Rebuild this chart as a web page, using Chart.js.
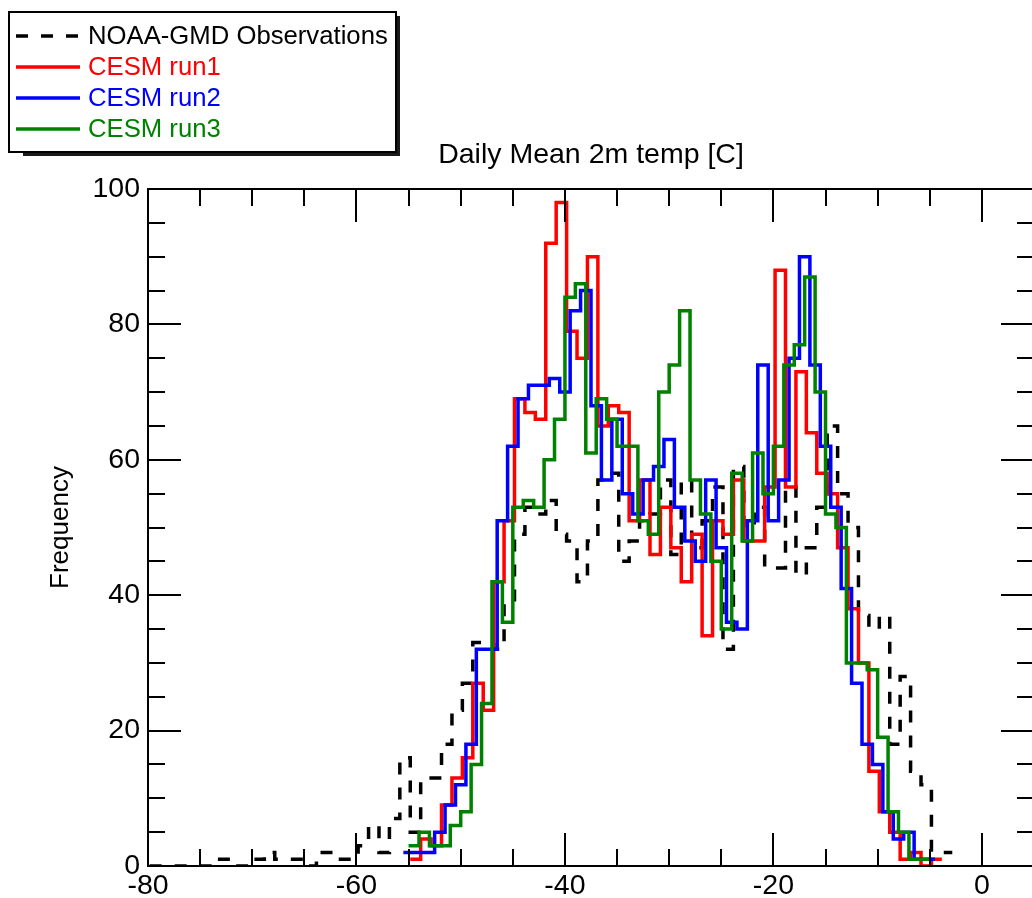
<!DOCTYPE html>
<html>
<head>
<meta charset="utf-8">
<title>Daily Mean 2m temp</title>
<script src="https://cdn.jsdelivr.net/npm/chart.js@4.4.1/dist/chart.umd.min.js"></script>
<style>
  html, body { margin: 0; padding: 0; background: #fff; overflow: hidden; }
  #wrap { position: absolute; left: 0; top: 0; width: 1040px; height: 898px; }
</style>
</head>
<body>
<div id="wrap"><canvas id="histChart" width="1040" height="898"></canvas></div>
<script>
// counts per 1-degree bin, each series starting at the left edge of its first bin
const binWidth = 1;

const obsStart = -79.84;
const obsCounts = [
  0, 0, 0, 0, 0, 0, 1, 1, 0, 0,
  1, 2, 1, 1, 1, 0, 2, 2, 1, 1,
  3, 6, 2, 7, 16, 5, 13, 13, 18, 23,
  27, 33, 33, 32, 39, 49, 53, 52, 54, 49,
  48, 42, 48, 57, 58, 45, 48, 51, 52, 57,
  46, 57, 47, 51, 56, 32, 59, 50, 53, 44,
  44, 56, 43, 47, 53, 65, 55, 50, 37, 35,
  37, 18, 28, 14, 12, 2, 2
];

const run1Start = -54.84;
const run1Counts = [
  1, 4, 3, 9, 13, 16, 27, 23, 42, 51,
  69, 67, 66, 92, 98, 79, 75, 90, 65, 68,
  67, 51, 57, 46, 53, 47, 42, 49, 34, 51,
  49, 57, 48, 48, 56, 88, 56, 73, 64, 58,
  55, 47, 38, 30, 14, 8, 5, 1, 2, 0,
  1
];

const run2Start = -55.5;
const run2Counts = [
  2, 2, 2, 5, 9, 12, 18, 32, 32, 51,
  62, 69, 71, 71, 72, 70, 82, 85, 68, 57,
  66, 55, 52, 57, 59, 63, 53, 48, 45, 57,
  47, 36, 35, 51, 74, 51, 57, 75, 90, 74,
  62, 53, 41, 27, 18, 15, 8, 4, 5, 1,
  1
];

const run3Start = -55;
const run3Counts = [
  3, 5, 3, 3, 6, 8, 15, 24, 42, 36,
  53, 54, 53, 60, 66, 84, 86, 61, 69, 66,
  62, 62, 51, 49, 70, 74, 82, 57, 52, 45,
  35, 58, 48, 61, 55, 62, 74, 77, 87, 70,
  52, 50, 30, 30, 29, 19, 8, 5, 1, 1
];

const xTickLabels = [-80, -60, -40, -20, 0];
const yTickLabels = [0, 20, 40, 60, 80, 100];

const FONT = "'Liberation Sans', Arial, Helvetica, sans-serif";
Chart.defaults.font.family = FONT;
Chart.defaults.color = "#000";

// histogram outline: one point per bin edge, plus the closing right edge
function stepPoints(start, counts) {
  const pts = counts.map((c, i) => ({ x: start + i * binWidth, y: c }));
  pts.push({ x: start + counts.length * binWidth, y: counts[counts.length - 1] });
  return pts;
}

function series(label, start, counts, color, order, dash) {
  return {
    label: label,
    data: stepPoints(start, counts),
    borderColor: color,
    borderWidth: 3.5,
    borderDash: dash || [],
    stepped: true,
    pointRadius: 0,
    fill: false,
    order: order,
  };
}

const boxPlugin = {
  id: "idlBox",
  afterDatasetsDraw(chart) {
    const { ctx, chartArea: a, scales } = chart;
    const x = scales.x;
    const y = scales.y;
    ctx.save();
    ctx.strokeStyle = "#000";
    ctx.lineWidth = 2;
    ctx.strokeRect(a.left, a.top, a.right - a.left, a.bottom - a.top);

    // inward ticks on all four sides
    ctx.beginPath();
    for (let v = x.min; v <= x.max; v += 5) {
      const px = Math.round(x.getPixelForValue(v));
      const len = v % 20 === 0 ? 33 : 17;
      ctx.moveTo(px, a.bottom);
      ctx.lineTo(px, a.bottom - len);
      ctx.moveTo(px, a.top);
      ctx.lineTo(px, a.top + len);
    }
    for (let v = y.min; v <= y.max; v += 5) {
      const py = Math.round(y.getPixelForValue(v));
      const len = v % 20 === 0 ? 33 : 17;
      ctx.moveTo(a.left, py);
      ctx.lineTo(a.left + len, py);
      ctx.moveTo(a.right, py);
      ctx.lineTo(a.right - len, py);
    }
    ctx.stroke();

    ctx.fillStyle = "#000";
    ctx.font = "28.5px " + FONT;
    ctx.textAlign = "center";
    ctx.textBaseline = "middle";
    ctx.fillText("Daily Mean 2m temp [C]", (a.left + a.right) / 2, 155);
    ctx.restore();
  },
  afterDraw(chart) {
    const { ctx } = chart;
    const sets = chart.data.datasets;
    const bx = 9, by = 12, bw = 387, bh = 140;
    ctx.save();
    // thin drop shadow along the bottom and right, then the framed box
    ctx.fillStyle = "#1a1a1a";
    ctx.fillRect(bx + 14, by + bh, bw - 10, 4);
    ctx.fillRect(bx + bw, by + 4, 4, bh);
    ctx.fillStyle = "#fff";
    ctx.fillRect(bx, by, bw, bh);
    ctx.strokeStyle = "#000";
    ctx.lineWidth = 2;
    ctx.strokeRect(bx, by, bw, bh);

    ctx.font = "25.7px " + FONT;
    ctx.textAlign = "left";
    ctx.textBaseline = "middle";
    sets.forEach((ds, i) => {
      const rowY = 36 + i * 31;
      ctx.strokeStyle = ds.borderColor;
      ctx.lineWidth = 3.5;
      ctx.setLineDash(ds.borderDash);
      ctx.beginPath();
      ctx.moveTo(16, rowY);
      ctx.lineTo(80, rowY);
      ctx.stroke();
      ctx.setLineDash([]);
      ctx.fillStyle = ds.borderColor;
      ctx.fillText(ds.label, 88, rowY + 1);
    });
    ctx.restore();
  },
};

new Chart(document.getElementById("histChart"), {
  type: "line",
  data: {
    datasets: [
      series("NOAA-GMD Observations", obsStart, obsCounts, "#000000", 3, [12, 13]),
      series("CESM run1", run1Start, run1Counts, "#ff0000", 2),
      series("CESM run2", run2Start, run2Counts, "#0000ff", 1),
      series("CESM run3", run3Start, run3Counts, "#008200", 0),
    ],
  },
  options: {
    responsive: false,
    animation: false,
    layout: { padding: { left: 0, top: 189, right: 6, bottom: 0 } },
    plugins: {
      legend: { display: false },
      tooltip: { enabled: false },
      title: { display: false },
    },
    scales: {
      x: {
        type: "linear",
        min: -80,
        max: 5,
        afterFit: (s) => { s.height = 32; },
        afterBuildTicks: (s) => { s.ticks = xTickLabels.map((v) => ({ value: v })); },
        grid: { display: false, drawTicks: false },
        border: { display: false },
        ticks: { padding: 3, maxRotation: 0, autoSkip: false, font: { size: 28.5 }, color: "#000" },
      },
      y: {
        type: "linear",
        min: 0,
        max: 100,
        afterFit: (s) => { s.width = 148; },
        afterBuildTicks: (s) => { s.ticks = yTickLabels.map((v) => ({ value: v })); },
        grid: { display: false, drawTicks: false },
        border: { display: false },
        ticks: { padding: 8, font: { size: 28.5 }, color: "#000" },
        title: {
          display: true,
          text: "Frequency",
          font: { size: 26 },
          color: "#000",
          padding: { top: 45, bottom: 0 },
        },
      },
    },
  },
  plugins: [boxPlugin],
});
</script>
</body>
</html>
